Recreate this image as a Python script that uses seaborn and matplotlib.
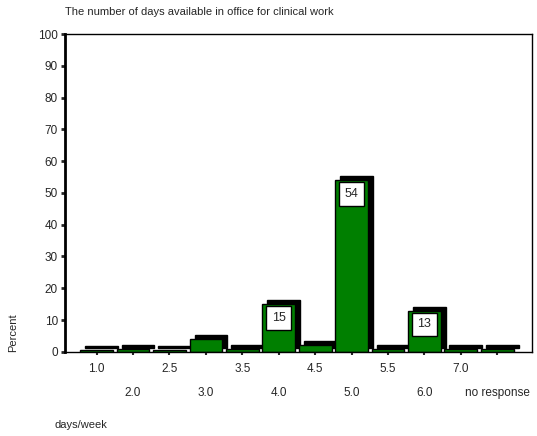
import seaborn as sns
import matplotlib.pyplot as plt
import matplotlib.transforms as mtransforms
import pandas as pd

# Values
days = ["1.0", "2.0", "2.5", "3.0", "3.5", "4.0", "4.5", "5.0", "5.5", "6.0", "7.0", "no response"]
percent = [0.7, 1.0, 0.7, 4.0, 1.0, 15.0, 2.2, 54.0, 1.0, 13.0, 1.0, 1.0]
shown_labels = [15, 54, 13]

df = pd.DataFrame({"days": days, "percent": percent})

sns.set_style("white")
plt.rcParams["font.family"] = ["Liberation Sans", "DejaVu Sans"]

fig = plt.figure(figsize=(5.37, 4.36), dpi=100)
ax = fig.add_axes([0.121, 0.193, 0.870, 0.729])

# black "3D" shadow bars, shifted up/right
sns.barplot(data=df, x="days", y="percent", color="black", width=0.9,
            saturation=1, ax=ax, zorder=1)
shadow_patches = list(ax.patches)
shift = mtransforms.offset_copy(ax.transData, fig=fig, x=5, y=4, units="dots")
for p in shadow_patches:
    p.set_transform(shift)
    p.set_edgecolor("black")

# front green bars
sns.barplot(data=df, x="days", y="percent", color="#007F00", width=0.9,
            saturation=1, edgecolor="black", linewidth=1, ax=ax, zorder=2)

# value boxes
for i, v in enumerate(percent):
    if round(v) in shown_labels:
        ax.annotate(f"{round(v)}", xy=(i, v), xytext=(0, -10), textcoords="offset points",
                    ha="center", va="center", fontsize=9, zorder=5,
                    bbox=dict(boxstyle="square,pad=0.45", fc="white", ec="black", lw=1))

ax.set_ylim(0, 100)
ax.set_xlim(-0.87, 11.96)
ax.set_yticks(range(0, 101, 10))
ax.tick_params(axis="y", direction="out", length=3, width=2, labelsize=8.5, pad=2, left=True)
ax.tick_params(axis="x", direction="out", length=2, width=1.5, labelsize=8.5, bottom=True)

# alternate x labels on two rows
ax.set_xticks(range(len(days)))
ax.set_xticklabels(days)
for i, tick in enumerate(ax.xaxis.get_major_ticks()):
    tick.set_pad(6 if i % 2 == 0 else 23)

for s in ax.spines.values():
    s.set_visible(True)
    s.set_color("black")
    s.set_linewidth(1)
ax.spines["left"].set_linewidth(2)

ax.set_xlabel("")
ax.set_ylabel("")
fig.text(0.121, 0.972, "The number of days available in office for clinical work",
         fontsize=8, ha="left", va="center")
fig.text(0.102, 0.025, "days/week", fontsize=8, ha="left", va="center")
fig.text(0.024, 0.193, "Percent", fontsize=8, rotation=90, ha="center", va="bottom")

fig.savefig("out.png", dpi=100)
